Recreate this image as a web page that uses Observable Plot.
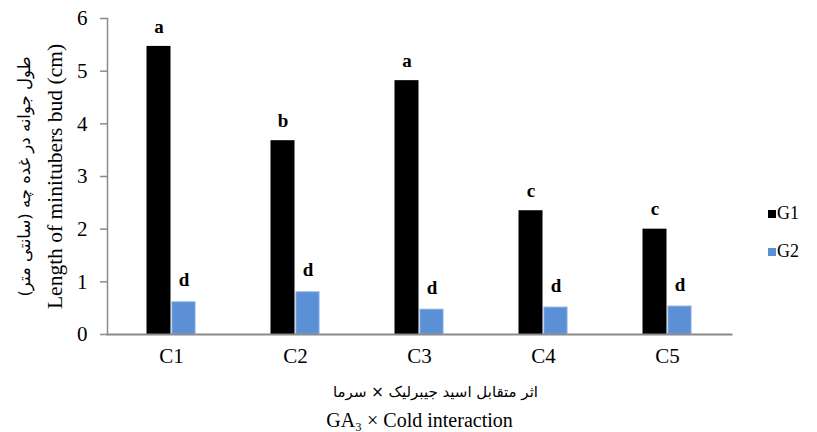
<!DOCTYPE html>
<html>
<head>
<meta charset="utf-8">
<script src="https://cdn.jsdelivr.net/npm/d3@7"></script>
<script src="https://cdn.jsdelivr.net/npm/@observablehq/plot@0.6"></script>
<style>
  body { margin: 0; background: #fff; }
  #wrap { position: relative; width: 817px; height: 432px; }
  .legend { position: absolute; left: 768px; font-family: "Liberation Serif", serif; font-size: 18px; color: #000; display: flex; align-items: center; }
  .legend span.sw { display: inline-block; width: 8px; height: 8px; margin-right: 1px; }
</style>
</head>
<body>
<div id="wrap"></div>
<script>
const categories = ["C1", "C2", "C3", "C4", "C5"];
const series = ["G1", "G2"];
const g1Values = [5.47, 3.68, 4.82, 2.35, 2.0];
const g2Values = [0.61, 0.80, 0.47, 0.51, 0.53];
const g1Letters = ["a", "b", "a", "c", "c"];
const g2Letters = ["d", "d", "d", "d", "d"];
const yTicks = [0, 1, 2, 3, 4, 5, 6];
const colors = ["#000000", "#5b8fd6"];

const g1 = categories.map((c, i) => ({cat: c, value: g1Values[i], letter: g1Letters[i]}));
const g2 = categories.map((c, i) => ({cat: c, value: g2Values[i], letter: g2Letters[i]}));

const serif = "Liberation Serif, Times New Roman, serif";
const persian = "DejaVu Sans, sans-serif";

const chart = Plot.plot({
  width: 817,
  height: 432,
  marginLeft: 107,
  marginRight: 86,
  marginTop: 18,
  marginBottom: 98,
  style: "font-family: 'Liberation Serif', 'Times New Roman', serif; background: #fff;",
  x: {domain: categories, padding: 0},
  y: {domain: [0, 6]},
  marks: [
    Plot.barY(g1, {x: "cat", y: "value", fill: colors[0], insetLeft: 37.5, insetRight: 62.5}),
    Plot.barY(g2, {x: "cat", y: "value", fill: colors[1], stroke: "#7fa8e0", strokeWidth: 1, insetLeft: 63, insetRight: 38}),
    Plot.text(g1, {x: "cat", y: "value", text: "letter", dx: -12.5, dy: -20, fontWeight: "bold", fontSize: 19, fontFamily: serif, fill: "#000"}),
    Plot.text(g2, {x: "cat", y: "value", text: "letter", dx: 12.5, dy: -22, fontWeight: "bold", fontSize: 19, fontFamily: serif, fill: "#000"}),
    Plot.frame({anchor: "left", stroke: "#8a8a8a", strokeWidth: 1.5}),
    Plot.frame({anchor: "bottom", stroke: "#8a8a8a", strokeWidth: 2}),
    Plot.axisY({ticks: yTicks, tickSize: 7, tickPadding: 13, stroke: "#8a8a8a", strokeWidth: 1.5, fontSize: 21, fontFamily: serif, fill: "#000", label: null, tickFormat: d => String(d)}),
    Plot.axisX({tickSize: 0, tickPadding: 14, fontSize: 21, fontFamily: serif, fill: "#000", label: null}),
    Plot.text(["Length of minitubers bud (cm)"], {frameAnchor: "left", rotate: -90, dx: -52, textAnchor: "middle", lineAnchor: "middle", fontSize: 21.5, fontFamily: serif, fill: "#000"}),
    Plot.text(["طول جوانه در غده چه (سانتی متر)"], {frameAnchor: "left", rotate: -90, dx: -83, textAnchor: "middle", lineAnchor: "middle", fontSize: 16.5, fontFamily: persian, fill: "#000"}),
    Plot.text(["اثر متقابل اسید جیبرلیک × سرما"], {frameAnchor: "bottom", dy: 58, dx: 16, textAnchor: "middle", lineAnchor: "middle", fontSize: 15, fontFamily: persian, fill: "#000"}),
    Plot.text(["GA₃ × Cold interaction"], {frameAnchor: "bottom", dy: 86, textAnchor: "middle", lineAnchor: "middle", fontSize: 20, fontFamily: serif, fill: "#000"})
  ]
});

const wrap = document.getElementById("wrap");
wrap.appendChild(chart);
series.forEach((s, i) => {
  const d = document.createElement("div");
  d.className = "legend";
  d.style.top = (203 + i * 38) + "px";
  const sw = document.createElement("span");
  sw.className = "sw";
  sw.style.background = colors[i];
  d.appendChild(sw);
  d.appendChild(document.createTextNode(s));
  wrap.appendChild(d);
});
</script>
</body>
</html>
